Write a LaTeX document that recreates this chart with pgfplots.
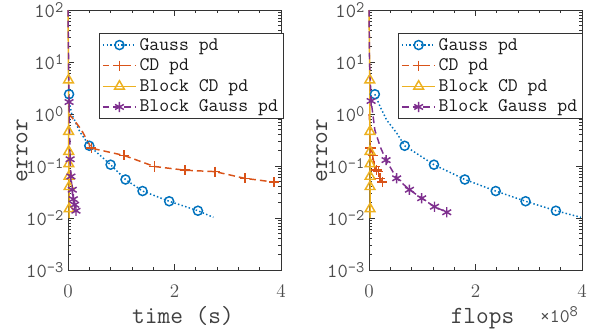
\documentclass[border=0pt]{standalone}
\usepackage{fontspec}
\renewcommand{\familydefault}{\ttdefault}
\usepackage{pgfplots}
\pgfplotsset{compat=1.18}
\definecolor{mblue}{rgb}{0,0.447,0.741}
\definecolor{morange}{rgb}{0.85,0.325,0.098}
\definecolor{myellow}{rgb}{0.929,0.694,0.125}
\definecolor{mpurple}{rgb}{0.494,0.184,0.556}
\definecolor{mfill}{rgb}{1,1,0.88}
\newcommand{\sps}[1]{\raisebox{0.62ex}{\fontsize{12}{12}\selectfont #1}}
\tikzset{
  gline/.style={mblue, line width=1.1pt, dash pattern=on 1.1pt off 1.7pt},
  gmark/.style={mblue, mark=o, mark size=3.4pt, mark options={solid, fill=mfill, line width=1.1pt}},
  cline/.style={morange, line width=1.1pt, dash pattern=on 5pt off 3pt},
  cmark/.style={morange, mark=+, mark size=3.8pt, mark options={solid, line width=1.1pt}},
  bcline/.style={myellow, line width=1.1pt},
  bcmark/.style={myellow, mark=triangle, mark size=4.2pt, mark options={solid, fill=mfill, line width=1.1pt}},
  bgline/.style={mpurple, line width=1.1pt, dash pattern=on 5pt off 3pt},
  bgmark/.style={mpurple, mark=asterisk, mark size=3.8pt, mark options={solid, line width=1.1pt}},
}
\begin{document}
\begin{tikzpicture}
\useasboundingbox (-51pt,-45pt) rectangle (397.5pt,202.5pt);
% ---------------- left: time ----------------
\begin{axis}[scale only axis, width=159.75pt, height=195pt,
    at={(0pt,0pt)}, anchor=south west,
    xmin=0, xmax=4, ymin=0.001, ymax=100, ymode=log,
    xtick={0,2,4}, minor x tick num=4,
    ytick={0.001,0.01,0.1,1,10,100},
    yticklabels={10\sps{-3},10\sps{-2},10\sps{-1},10\sps{0},10\sps{1},10\sps{2}},
    tick align=inside,
    major tick length=4.5pt, minor tick length=2.5pt,
    axis line style={black!80, line width=0.6pt},
    every tick/.style={black!80, line width=0.5pt},
    tick label style={font=\fontsize{15}{15}\selectfont, text=black!70},
    xticklabel style={yshift=-8pt},
    label style={font=\fontsize{18.5}{18.5}\selectfont, text=black!75},
    clip=false,
    legend cell align=left,
    legend style={at={(0.1455,0.9115)}, anchor=north west, draw=black!80, line width=0.6pt,
      font=\fontsize{14.4}{15}\selectfont, text=black!90,
      inner xsep=2pt, inner ysep=1.5pt, row sep=1pt},
    legend image code/.code={\draw[mark repeat=2, mark phase=2, #1] plot coordinates {(0pt,0pt) (12.5pt,0pt) (25pt,0pt)};},
    xlabel={time (s)}, ylabel={error},
    xlabel style={at={(axis description cs:0.54,-0.204)}, anchor=base},
    ylabel style={at={(axis description cs:-0.216,0.46)}, anchor=center}]
\addlegendimage{gline, gmark}
\addlegendentry{Gauss pd}
\addlegendimage{cline, cmark}
\addlegendentry{CD pd}
\addlegendimage{bcline, bcmark}
\addlegendentry{Block CD pd}
\addlegendimage{bgline, bgmark}
\addlegendentry{Block Gauss pd}
% Gauss pd
\addplot[gline, forget plot] coordinates {(0.02,2.4) (0.035,1.5) (0.07,1.0) (0.22,0.46) (0.40,0.245) (0.80,0.106) (1.08,0.055) (1.40,0.033) (1.90,0.021) (2.44,0.0138) (2.73,0.0103)};
\addplot[gmark, only marks, forget plot] coordinates {(0.02,2.4) (0.40,0.245) (0.80,0.106) (1.08,0.055) (1.40,0.033) (1.90,0.021) (2.44,0.0138)};
% CD pd
\addplot[cline, forget plot] coordinates {(0.02,1.0) (0.12,0.75) (0.25,0.5) (0.44,0.22) (1.05,0.16) (1.62,0.098) (2.2,0.083) (2.76,0.078) (3.32,0.058) (3.87,0.049)};
\addplot[cmark, only marks, forget plot] coordinates {(0.44,0.22) (1.05,0.16) (1.62,0.098) (2.2,0.083) (2.76,0.078) (3.32,0.058) (3.87,0.049)};
% Block CD pd
\addplot[bcline, forget plot] coordinates {(0.0,100) (0.01,4.5) (0.012,0.46) (0.014,0.19) (0.016,0.11) (0.018,0.063) (0.02,0.04) (0.022,0.015) (0.023,0.01)};
\addplot[bcmark, only marks, forget plot] coordinates {(0.01,4.5) (0.012,0.46) (0.014,0.19) (0.016,0.11) (0.018,0.063) (0.02,0.04) (0.022,0.015)};
% Block Gauss pd
\addplot[bgline, forget plot] coordinates {(0.0,100) (0.02,1.7) (0.04,0.135) (0.055,0.063) (0.08,0.035) (0.1,0.023) (0.125,0.018) (0.15,0.0138)};
\addplot[bgmark, only marks, forget plot] coordinates {(0.02,1.7) (0.04,0.135) (0.055,0.063) (0.08,0.035) (0.1,0.023) (0.125,0.018) (0.15,0.0138)};
\end{axis}
% ---------------- right: flops ----------------
\begin{axis}[scale only axis, width=159.75pt, height=195pt,
    at={(225.75pt,0pt)}, anchor=south west,
    xmin=0, xmax=4, ymin=0.001, ymax=100, ymode=log,
    xtick={0,2,4}, minor x tick num=4,
    ytick={0.001,0.01,0.1,1,10,100},
    yticklabels={10\sps{-3},10\sps{-2},10\sps{-1},10\sps{0},10\sps{1},10\sps{2}},
    tick align=inside,
    major tick length=4.5pt, minor tick length=2.5pt,
    axis line style={black!80, line width=0.6pt},
    every tick/.style={black!80, line width=0.5pt},
    tick label style={font=\fontsize{15}{15}\selectfont, text=black!70},
    xticklabel style={yshift=-8pt},
    label style={font=\fontsize{18.5}{18.5}\selectfont, text=black!75},
    clip=false,
    legend cell align=left,
    legend style={at={(0.137,0.9115)}, anchor=north west, draw=black!80, line width=0.6pt,
      font=\fontsize{14.4}{15}\selectfont, text=black!90,
      inner xsep=2pt, inner ysep=1.5pt, row sep=1pt},
    legend image code/.code={\draw[mark repeat=2, mark phase=2, #1] plot coordinates {(0pt,0pt) (12.5pt,0pt) (25pt,0pt)};},
    xlabel={flops}, ylabel={error},
    xlabel style={at={(axis description cs:0.533,-0.204)}, anchor=base},
    ylabel style={at={(axis description cs:-0.222,0.46)}, anchor=center}]
\addlegendimage{gline, gmark}
\addlegendentry{Gauss pd}
\addlegendimage{cline, cmark}
\addlegendentry{CD pd}
\addlegendimage{bcline, bcmark}
\addlegendentry{Block CD pd}
\addlegendimage{bgline, bgmark}
\addlegendentry{Block Gauss pd}
% Gauss pd (x in units of 1e8 flops)
\addplot[gline, forget plot] coordinates {(0.11,2.4) (0.21,1.38) (0.33,0.77) (0.52,0.43) (0.67,0.245) (1.22,0.106) (1.80,0.055) (2.38,0.033) (2.94,0.021) (3.51,0.0138) (3.98,0.0103)};
\addplot[gmark, only marks, forget plot] coordinates {(0.11,2.4) (0.67,0.245) (1.22,0.106) (1.80,0.055) (2.38,0.033) (2.94,0.021) (3.51,0.0138)};
% CD pd
\addplot[cline, forget plot] coordinates {(0.002,1.0) (0.012,0.7) (0.028,0.22) (0.067,0.16) (0.104,0.098) (0.14,0.083) (0.177,0.078) (0.21,0.058) (0.25,0.049)};
\addplot[cmark, only marks, forget plot] coordinates {(0.028,0.22) (0.067,0.16) (0.104,0.098) (0.14,0.083) (0.177,0.078) (0.21,0.058) (0.25,0.049)};
% Block CD pd
\addplot[bcline, forget plot] coordinates {(0.0,100) (0.015,4.5) (0.018,0.46) (0.02,0.19) (0.02,0.11) (0.02,0.063) (0.02,0.04) (0.02,0.015) (0.02,0.01)};
\addplot[bcmark, only marks, forget plot] coordinates {(0.015,4.5) (0.018,0.46) (0.02,0.19) (0.02,0.11) (0.02,0.063) (0.02,0.04) (0.02,0.015)};
% Block Gauss pd
\addplot[bgline, forget plot] coordinates {(0.0,100) (0.01,10) (0.04,1.78) (0.11,0.49) (0.21,0.235) (0.32,0.13) (0.52,0.058) (0.76,0.035) (0.99,0.024) (1.23,0.0165) (1.46,0.0129)};
\addplot[bgmark, only marks, forget plot] coordinates {(0.04,1.78) (0.32,0.13) (0.52,0.058) (0.76,0.035) (0.99,0.024) (1.23,0.0165) (1.46,0.0129)};
\node[anchor=base east, font=\fontsize{14.4}{14.4}\selectfont, text=black!70] at (axis description cs:1.003,-0.2) {×10\sps{8}};
\end{axis}
\end{tikzpicture}
\end{document}
